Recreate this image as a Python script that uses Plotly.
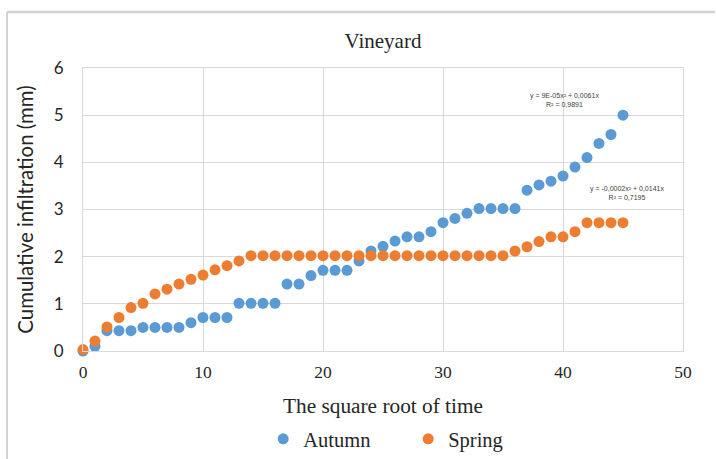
import plotly.graph_objects as go

x_vals = list(range(46))
autumn = [0, 0.1, 0.43, 0.43, 0.43, 0.5, 0.5, 0.5, 0.5, 0.6, 0.71, 0.71, 0.71,
          1.01, 1.01, 1.01, 1.01, 1.42, 1.42, 1.6, 1.71, 1.71, 1.71, 1.91, 2.12,
          2.22, 2.33, 2.42, 2.42, 2.53, 2.72, 2.81, 2.92, 3.02, 3.02, 3.02, 3.02,
          3.41, 3.52, 3.6, 3.71, 3.9, 4.1, 4.4, 4.59, 5.0]
spring = [0.03, 0.21, 0.51, 0.71, 0.92, 1.01, 1.21, 1.31, 1.42, 1.52, 1.61, 1.72,
          1.81, 1.91] + [2.02] * 22 + [2.12, 2.21, 2.32, 2.42, 2.42, 2.53, 2.72,
          2.72, 2.72, 2.72]

series_names = ["Autumn", "Spring"]
series_colors = ["#5B9BD5", "#ED7D31"]
eq_texts = ["y = 9E-05x² + 0,0061x<br>R² = 0,9891",
            "y = -0,0002x² + 0,0141x<br>R² = 0,7195"]
eq_pos = [(40.1, 5.33), (45.3, 3.34)]

serif = "Liberation Serif"
sans = "Lato"

fig = go.Figure()
for name, ys, col in zip(series_names, [autumn, spring], series_colors):
    fig.add_trace(go.Scatter(x=x_vals, y=ys, mode="markers", name=name,
                             marker=dict(size=11, color=col), cliponaxis=False))

for t, (ax, ay) in zip(eq_texts, eq_pos):
    fig.add_annotation(x=ax, y=ay, text=t, showarrow=False, xref="x", yref="y",
                       font=dict(family="Liberation Sans", size=7, color="#404040"),
                       align="center")

L, R, T, B = 83, 33, 68, 108
W, H = 716, 459
pw, ph = W - L - R, H - T - B
# outer chart frame (left and top edges visible)
fx0 = (7 - L) / pw
fy1 = (H - B - 12) / ph
fig.add_shape(type="line", xref="paper", yref="paper", x0=fx0, x1=fx0,
              y0=-(B + 20) / ph, y1=fy1, line=dict(color="#d3d3d3", width=2), layer="above")
fig.add_shape(type="line", xref="paper", yref="paper", x0=fx0, x1=(W - L - 1) / pw,
              y0=fy1, y1=fy1, line=dict(color="#d3d3d3", width=2.5), layer="above")

fig.update_layout(
    width=W, height=H,
    margin=dict(l=L, r=R, t=T, b=B, autoexpand=False),
    paper_bgcolor="white", plot_bgcolor="white",
    title=dict(text="Vineyard", x=(383 - L) / pw, xref="paper", xanchor="center",
               y=1 - 41 / H, yanchor="middle",
               font=dict(family=serif, size=21, color="#262626")),
    showlegend=True,
    legend=dict(orientation="h", x=0.542, xanchor="center", y=-(439 - (H - B)) / ph,
                yanchor="middle", font=dict(family=serif, size=20.5, color="#262626"),
                entrywidth=100, entrywidthmode="pixels"),
)
fig.update_xaxes(range=[0, 50], dtick=10, showgrid=True, gridcolor="#d9d9d9", gridwidth=1,
                 zeroline=False, showline=True, linecolor="#d9d9d9", mirror=True,
                 ticks="", ticklabelstandoff=5, automargin=False,
                 tickfont=dict(family=serif, size=17.5, color="#262626"),
                 title=dict(text="The square root of time", standoff=17,
                            font=dict(family=serif, size=21.3, color="#262626")))
fig.update_yaxes(range=[0, 6], dtick=1, showgrid=True, gridcolor="#d9d9d9", gridwidth=1,
                 zeroline=False, showline=True, linecolor="#d9d9d9", mirror=True,
                 ticks="", ticklabelstandoff=15, automargin=False,
                 tickfont=dict(family=sans, size=17, color="#262626"),
                 title=dict(text="Cumulative infiltration (mm)", standoff=14,
                            font=dict(family=sans, size=20.4, color="#262626")))

fig.write_html("out.html", config={"displayModeBar": False},
               post_script="document.body.style.margin='0';document.body.style.overflow='hidden';")
